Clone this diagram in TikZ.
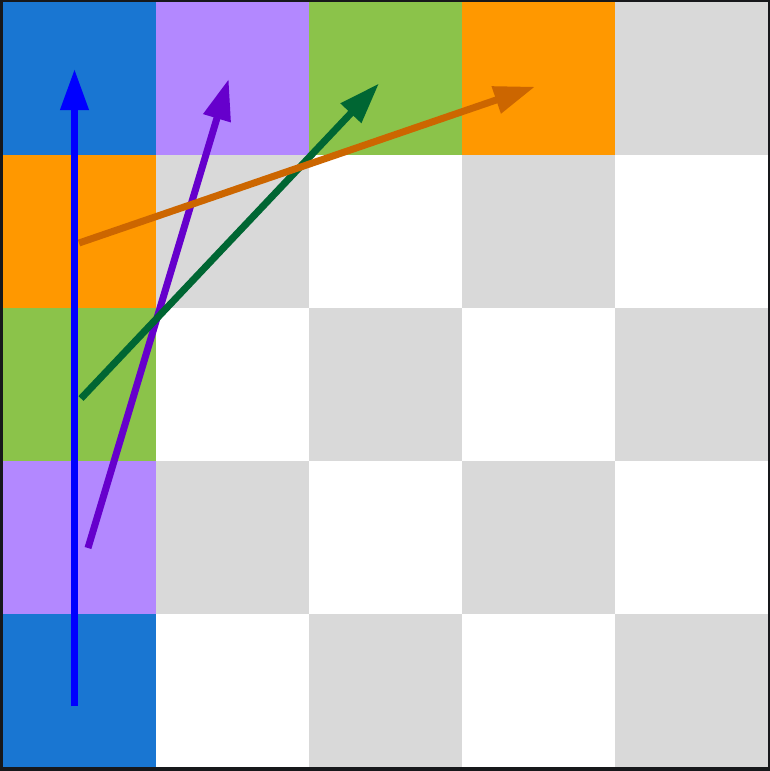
\documentclass[tikz,border=0pt]{standalone}
\usetikzlibrary{arrows.meta}
\definecolor{cblue}{HTML}{1976D2}
\definecolor{cpurple}{HTML}{B388FF}
\definecolor{cgreen}{HTML}{8BC34A}
\definecolor{corange}{HTML}{FF9800}
\definecolor{cgray}{HTML}{D9D9D9}
\definecolor{cframe}{HTML}{17181B}
\definecolor{ablue}{HTML}{0000FF}
\definecolor{apurple}{HTML}{6600CC}
\definecolor{agreen}{HTML}{006633}
\definecolor{aorange}{HTML}{CC6600}
\tikzset{
  vec/.style={line width=7pt, -{Triangle[length=41pt,width=27pt]}},
}
\begin{document}
\begin{tikzpicture}[x=1pt,y=-1pt]
\useasboundingbox (0,0) rectangle (770,771);
\fill[cframe] (0,0) rectangle (770,771);
\fill[white] (3,2) rectangle (768,767);
% cells: origin (3,2), size 153
\foreach \c/\r/\col in {0/0/cblue,1/0/cpurple,2/0/cgreen,3/0/corange,4/0/cgray,
  0/1/corange,1/1/cgray,3/1/cgray,
  0/2/cgreen,2/2/cgray,4/2/cgray,
  0/3/cpurple,1/3/cgray,3/3/cgray,
  0/4/cblue,2/4/cgray,4/4/cgray}
  \fill[\col] ({3+153*\c},{2+153*\r}) rectangle ({3+153*(\c+1)},{2+153*(\r+1)});
\coordinate (b0) at (74.5,706);
\coordinate (b1) at (74.5,69);
\coordinate (p0) at (88,548);
\coordinate (p1) at (228.7,79);
\coordinate (g0) at (81,398.5);
\coordinate (g1) at (379,83.5);
\coordinate (o0) at (79,243);
\coordinate (o1) at (535,86.7);
\draw[vec, ablue] (b0) -- (b1);
\draw[vec, apurple] (p0) -- (p1);
\draw[vec, agreen] (g0) -- (g1);
\draw[vec, aorange] (o0) -- (o1);
\end{tikzpicture}
\end{document}
